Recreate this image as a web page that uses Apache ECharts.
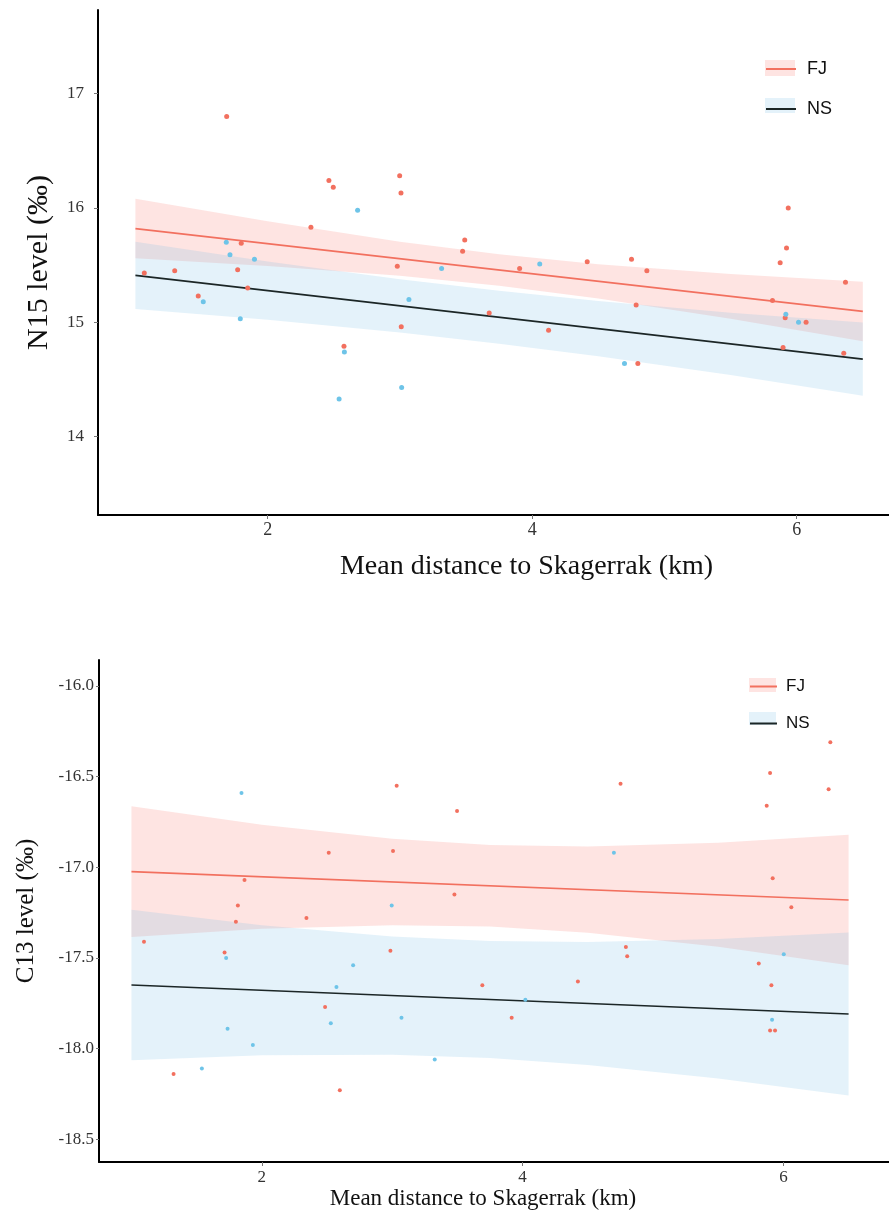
<!DOCTYPE html>
<html>
<head>
<meta charset="utf-8">
<script src="https://cdn.jsdelivr.net/npm/echarts@6/dist/echarts.min.js"></script>
<style>
html,body{margin:0;padding:0;background:#fff;}
#chart{width:889px;height:1215px;}
</style>
</head>
<body>
<div id="chart"></div>
<script>
// ---------- Data: N15 panel ----------
const n15FJ = [
  [1.067,15.43],[1.297,15.45],[1.475,15.23],[1.69,16.80],[1.773,15.46],[1.80,15.69],[1.849,15.30],
  [2.327,15.83],[2.463,16.24],[2.496,16.18],[2.577,14.79],[2.98,15.49],[2.998,16.28],[3.008,16.13],
  [3.01,14.96],[3.474,15.62],[3.49,15.72],[3.675,15.08],[3.905,15.47],[4.124,14.93],[4.416,15.53],
  [4.751,15.55],[4.786,15.15],[4.799,14.64],[4.867,15.45],[5.817,15.19],[5.875,15.52],[5.897,14.78],
  [5.913,15.04],[5.923,15.65],[5.936,16.00],[6.071,15.00],[6.356,14.73],[6.369,15.35]
];
const n15NS = [
  [1.513,15.18],[1.687,15.70],[1.715,15.59],[1.793,15.03],[1.90,15.55],[2.54,14.33],[2.58,14.74],
  [2.68,15.98],[3.013,14.43],[3.068,15.20],[3.315,15.47],[4.057,15.51],[4.698,14.64],[5.918,15.07],[6.014,15.00]
];
const n15FJLine = [[1,15.819],[6.5,15.095]];
const n15NSLine = [[1,15.41],[6.5,14.678]];
const bandX = [1, 2, 3, 3.75, 4.5, 5.5, 6.5];
const n15FJUpper = [16.079, 15.884, 15.705, 15.594, 15.508, 15.423, 15.355];
const n15FJLower = [15.559, 15.491, 15.406, 15.320, 15.208, 15.030, 14.835];
const n15NSUpper = [15.705, 15.532, 15.377, 15.275, 15.186, 15.084, 14.998];
const n15NSLower = [15.115, 15.022, 14.911, 14.813, 14.702, 14.538, 14.358];
const n15YTicks = [14, 15, 16, 17];

// ---------- Data: C13 panel ----------
const c13FJ = [
  [1.096,-17.41],[1.323,-18.14],[1.714,-17.47],[1.801,-17.30],[1.816,-17.21],[1.867,-17.07],[2.342,-17.28],
  [2.485,-17.77],[2.513,-16.92],[2.598,-18.23],[2.986,-17.46],[3.006,-16.91],[3.034,-16.55],[3.477,-17.15],
  [3.497,-16.69],[3.691,-17.65],[3.916,-17.83],[4.424,-17.63],[4.751,-16.54],[4.792,-17.44],[4.802,-17.49],
  [5.811,-17.53],[5.872,-16.66],[5.898,-16.48],[5.898,-17.90],[5.908,-17.65],[5.918,-17.06],[5.936,-17.90],
  [6.061,-17.22],[6.347,-16.57],[6.360,-16.31]
];
const c13NS = [
  [1.540,-18.11],[1.726,-17.50],[1.737,-17.89],[1.844,-16.59],[1.931,-17.98],[2.529,-17.86],[2.572,-17.66],
  [2.70,-17.54],[2.996,-17.21],[3.071,-17.83],[3.326,-18.06],[4.021,-17.73],[4.70,-16.92],[5.913,-17.84],[6.003,-17.48]
];
const c13FJLine = [[1,-17.024],[6.5,-17.18]];
const c13NSLine = [[1,-17.649],[6.5,-17.809]];
const c13FJUpper = [-16.664, -16.765, -16.843, -16.877, -16.885, -16.864, -16.820];
const c13FJLower = [-17.384, -17.339, -17.319, -17.327, -17.361, -17.438, -17.540];
const c13NSUpper = [-17.234, -17.320, -17.381, -17.406, -17.412, -17.396, -17.359];
const c13NSLower = [-18.064, -18.036, -18.033, -18.052, -18.090, -18.164, -18.259];
const c13YTicks = [-18.5, -18.0, -17.5, -17.0, -16.5, -16.0];

const xTicks = [2, 4, 6];
const xTitle = 'Mean distance to Skagerrak (km)';

// ---------- Styles ----------
const RED = '#F2705F';
const BLUE = '#6EC4E8';
const PINK_FILL = 'rgba(248,118,109,0.2)';
const BLUE_FILL = 'rgba(120,190,230,0.2)';
const SERIF = 'Liberation Serif';

function band(idx, up, lo, fill, z) {
  return {
    type: 'custom', xAxisIndex: idx, yAxisIndex: idx, silent: true, z: z,
    data: bandX.map((x, i) => [x, up[i], lo[i]]),
    encode: {x: 0, y: [1, 2]},
    renderItem: function (params, api) {
      if (params.dataIndex !== 0) return null;
      const pts = [];
      for (let i = 0; i < bandX.length; i++) pts.push(api.coord([bandX[i], up[i]]));
      for (let i = bandX.length - 1; i >= 0; i--) pts.push(api.coord([bandX[i], lo[i]]));
      return {type: 'polygon', shape: {points: pts}, style: {fill: fill}};
    }
  };
}
function line(idx, name, data, color) {
  return {type: 'line', name: name, xAxisIndex: idx, yAxisIndex: idx, data: data,
    symbol: 'none', lineStyle: {color: color, width: 1.6}, itemStyle: {color: color}, z: 3, silent: true};
}
function pts(idx, name, data, color, size) {
  return {type: 'scatter', name: name, xAxisIndex: idx, yAxisIndex: idx, data: data,
    symbolSize: size, itemStyle: {color: color, opacity: 1}, z: 4};
}

const chart = echarts.init(document.getElementById('chart'), null, {renderer: 'canvas'});
chart.setOption({
  animation: false,
  backgroundColor: '#fff',
  grid: [
    {left: 98, top: 10, right: 0, height: 505},
    {left: 99, top: 660, right: 0, height: 502}
  ],
  xAxis: [
    {type: 'value', gridIndex: 0, min: 0.717, max: 6.698, splitLine: {show: false},
     axisLine: {lineStyle: {color: '#000', width: 2}},
     axisTick: {customValues: xTicks, length: 4, lineStyle: {color: '#777'}},
     axisLabel: {customValues: xTicks, margin: 6, fontFamily: SERIF, fontSize: 18, color: '#333'},
     name: xTitle, nameLocation: 'middle', nameGap: 38,
     nameTextStyle: {fontFamily: SERIF, fontSize: 28, color: '#111', padding: [0, 0, 0, 66]}},
    {type: 'value', gridIndex: 1, min: 0.751, max: 6.81, splitLine: {show: false},
     axisLine: {lineStyle: {color: '#000', width: 2}},
     axisTick: {customValues: xTicks, length: 4, lineStyle: {color: '#777'}},
     axisLabel: {customValues: xTicks, margin: 7, fontFamily: SERIF, fontSize: 17, color: '#333'},
     name: xTitle, nameLocation: 'middle', nameGap: 25,
     nameTextStyle: {fontFamily: SERIF, fontSize: 23, color: '#111', padding: [0, 22, 0, 0]}}
  ],
  yAxis: [
    {type: 'value', gridIndex: 0, min: 13.315, max: 17.73, splitLine: {show: false},
     axisLine: {show: true, lineStyle: {color: '#000', width: 2}},
     axisTick: {show: true, customValues: n15YTicks, length: 4, lineStyle: {color: '#777'}},
     axisLabel: {customValues: n15YTicks, margin: 14, fontFamily: SERIF, fontSize: 17, color: '#333'},
     name: 'N15 level (‰)', nameLocation: 'middle', nameGap: 44, nameRotate: 90,
     nameTextStyle: {fontFamily: SERIF, fontSize: 30, color: '#111'}},
    {type: 'value', gridIndex: 1, min: -18.625, max: -15.857, splitLine: {show: false},
     axisLine: {show: true, lineStyle: {color: '#000', width: 2}},
     axisTick: {show: true, customValues: c13YTicks, length: 3, lineStyle: {color: '#777'}},
     axisLabel: {customValues: c13YTicks, margin: 5, fontFamily: SERIF, fontSize: 17, color: '#333',
       formatter: v => v.toFixed(1)},
     name: 'C13 level (‰)', nameLocation: 'middle', nameGap: 60, nameRotate: 90,
     nameTextStyle: {fontFamily: SERIF, fontSize: 25, color: '#111'}}
  ],
  graphic: [
    {type: 'rect', shape: {x: 765, y: 60, width: 30, height: 16}, style: {fill: PINK_FILL}, z: 0},
    {type: 'rect', shape: {x: 765, y: 98, width: 30, height: 15}, style: {fill: BLUE_FILL}, z: 0},
    {type: 'rect', shape: {x: 749, y: 678, width: 27, height: 14}, style: {fill: PINK_FILL}, z: 0},
    {type: 'rect', shape: {x: 749, y: 712, width: 27, height: 13}, style: {fill: BLUE_FILL}, z: 0}
  ],
  legend: [
    {data: ['FJ', 'NS'], orient: 'vertical', left: 765, top: 60, itemWidth: 30, itemHeight: 16, itemGap: 22,
     padding: 0, selectedMode: false, itemStyle: {opacity: 0}, lineStyle: {width: 2},
     textStyle: {fontFamily: 'Liberation Sans', fontSize: 18, color: '#111', padding: [0, 0, 0, 6]}},
    {data: ['FJ', 'NS'], orient: 'vertical', left: 749, top: 678, itemWidth: 27, itemHeight: 14, itemGap: 20,
     padding: 0, selectedMode: false, itemStyle: {opacity: 0}, lineStyle: {width: 2},
     textStyle: {fontFamily: 'Liberation Sans', fontSize: 17, color: '#111', padding: [0, 0, 0, 4]}}
  ],
  series: [
    band(0, n15FJUpper, n15FJLower, PINK_FILL, 1),
    band(0, n15NSUpper, n15NSLower, BLUE_FILL, 2),
    line(0, 'FJ', n15FJLine, RED),
    line(0, 'NS', n15NSLine, '#1b2626'),
    pts(0, 'FJ points', n15FJ, RED, 5),
    pts(0, 'NS points', n15NS, BLUE, 5),
    band(1, c13FJUpper, c13FJLower, PINK_FILL, 1),
    band(1, c13NSUpper, c13NSLower, BLUE_FILL, 2),
    line(1, 'FJ', c13FJLine, RED),
    line(1, 'NS', c13NSLine, '#1b2626'),
    pts(1, 'FJ points', c13FJ, RED, 4),
    pts(1, 'NS points', c13NS, BLUE, 4)
  ]
});
</script>
</body>
</html>
